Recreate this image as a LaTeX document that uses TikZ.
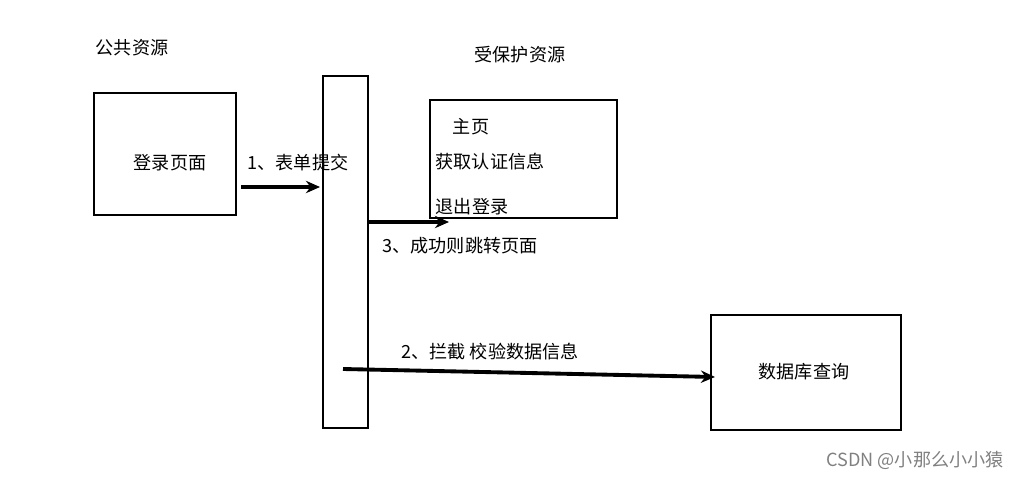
\documentclass[tikz,border=0pt]{standalone}
\usepackage{fontspec}
\setmainfont{Noto Sans CJK SC}
\usetikzlibrary{arrows.meta}
\begin{document}
\begin{tikzpicture}[x=0.02cm,y=-0.02cm,
  box/.style={draw,line width=1.2pt},
  lbl/.style={font=\fontsize{10.3}{12}\selectfont},
  arr/.style={line width=2.2pt,-{Stealth[length=8pt,width=7pt]}}]
\useasboundingbox (0,0) rectangle (1027,479);
\node[lbl] (pub) at (132,48) {公共资源};
\node[lbl] (prot) at (520,55) {受保护资源};
\draw[box] (94,93) rectangle (236,215);
\node[lbl] (login) at (170,163) {登录页面};
\draw[box] (323,76) rectangle (368,428);
\coordinate (a1s) at (241,187); \coordinate (a1e) at (320,187);
\draw[arr] (a1s) -- (a1e);
\node[lbl] (l1) at (298,163) {1、表单提交};
\draw[box] (430,100) rectangle (617,218);
\node[lbl] (home) at (471,127) {主页};
\node[lbl] (auth) at (490,162) {获取认证信息};
\node[lbl] (logout) at (472,207) {退出登录};
\coordinate (a3s) at (368,222); \coordinate (a3e) at (449,222);
\draw[arr] (a3s) -- (a3e);
\node[lbl] (l3) at (460,246) {3、成功则跳转页面};
\draw[box] (711,315) rectangle (901,430);
\node[lbl] (db) at (804,372) {数据库查询};
\coordinate (a2s) at (343,369); \coordinate (a2e) at (715,377);
\draw[arr] (a2s) -- (a2e);
\node[lbl] (l2) at (490,352) {2、拦截 校验数据信息};
\node[lbl,text=gray] (wm) at (915,460) {CSDN @小那么小小猿};
\end{tikzpicture}
\end{document}
